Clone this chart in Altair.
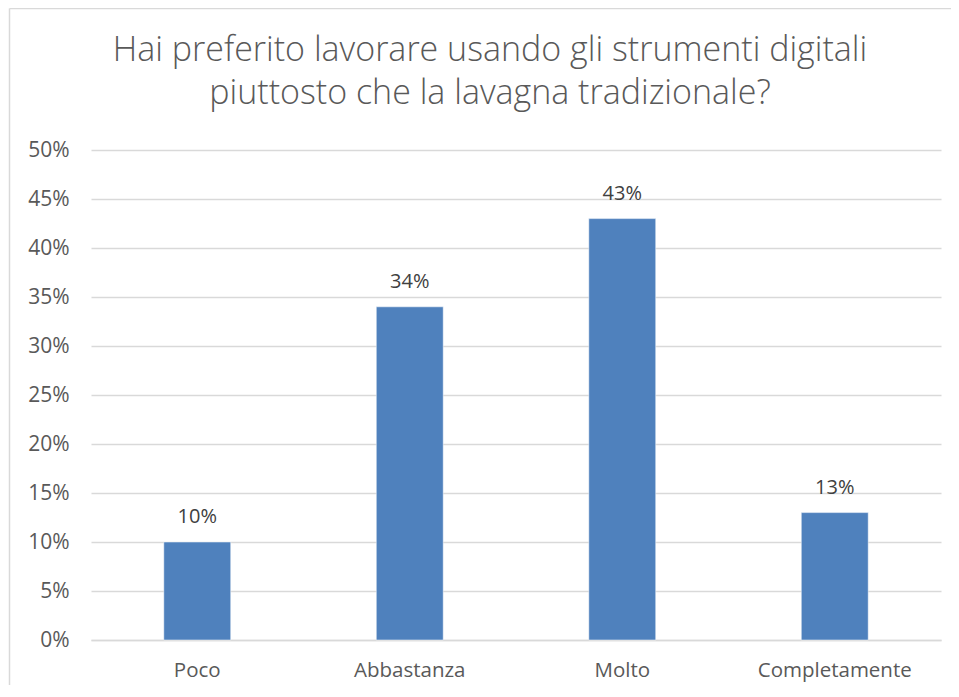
import altair as alt
import pandas as pd

categories = ["Poco", "Abbastanza", "Molto", "Completamente"]
values = [0.10, 0.34, 0.43, 0.13]
title_lines = ["Hai preferito lavorare usando gli strumenti digitali",
               "piuttosto che la lavagna tradizionale?"]

df = pd.DataFrame({"cat": categories, "val": values})
df["label"] = [f"{round(v*100)}%" for v in values]

FONT = "Open Sans"
TXT = "#595959"
GRID = "#D9D9D9"
BAR = "#4F81BD"

W, H = 850, 490

x = alt.X("cat:N", sort=categories, title=None,
          scale=alt.Scale(paddingInner=0.685, paddingOuter=0.3425),
          axis=alt.Axis(labelAngle=0, labelFont=FONT, labelFontSize=20.5,
                        labelColor=TXT, labelPadding=20, ticks=False,
                        domainColor=GRID, domainWidth=1.5, grid=False))
y = alt.Y("val:Q", title=None,
          scale=alt.Scale(domain=[0, 0.5], nice=False),
          axis=alt.Axis(format=".0%", values=[i / 20 for i in range(11)],
                        labelFont=FONT, labelFontSize=21, labelColor=TXT,
                        labelPadding=22, ticks=False, domain=False,
                        gridColor=GRID, gridWidth=1.5))

base = alt.Chart(df)
bars = base.mark_bar(color=BAR, stroke="#FFFFFF", strokeWidth=0.5).encode(x=x, y=y)
labels = base.mark_text(font=FONT, fontSize=20, color="#404040",
                        baseline="alphabetic", dy=-19).encode(
    x=alt.X("cat:N", sort=categories), y="val:Q", text="label:N")

one = pd.DataFrame({"k": [0]})
frame_left = alt.Chart(one).mark_rule(color=GRID, strokeWidth=1.5).encode(
    x=alt.value(-81.5), y=alt.value(-141.5), y2=alt.value(700))
frame_top = alt.Chart(one).mark_rule(color=GRID, strokeWidth=1.5).encode(
    x=alt.value(-81.5), x2=alt.value(880), y=alt.value(-141.5))

t1 = alt.Chart(pd.DataFrame({"t": [title_lines[0]]})).mark_text(
    font=FONT, fontSize=34, fontWeight=300, color=TXT, align="center",
    baseline="alphabetic").encode(text="t:N", x=alt.value(399), y=alt.value(-89))
t2 = alt.Chart(pd.DataFrame({"t": [title_lines[1]]})).mark_text(
    font=FONT, fontSize=34, fontWeight=300, color=TXT, align="center",
    baseline="alphabetic").encode(text="t:N", x=alt.value(399), y=alt.value(-46))

chart = alt.layer(frame_left, frame_top, bars, labels, t1, t2).properties(
    width=W, height=H,
    autosize=alt.AutoSizeParams(type="none"),
    padding={"left": 83, "top": 142, "right": 10, "bottom": 45},
).configure(background="white").configure_view(stroke=None, strokeWidth=0)

chart.save("out.html", embed_options={"renderer": "svg", "actions": False})
